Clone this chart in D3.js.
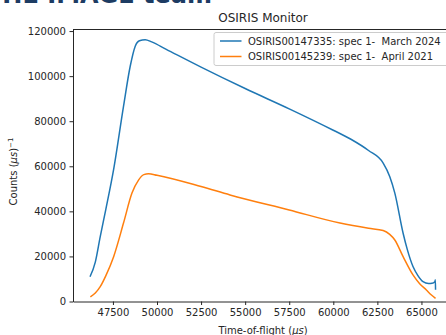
<!DOCTYPE html>
<html>
<head>
<meta charset="utf-8">
<script src="https://cdn.jsdelivr.net/npm/d3@7"></script>
<style>
  body { margin: 0; background: #fff; }
  svg text { font-family: "DejaVu Sans", sans-serif; fill: #262626; }
  .tick text { font-size: 10px; }
  .tick line, .domain { stroke: #262626; }
</style>
</head>
<body>
<div id="chart"></div>
<script>
// Time-of-flight (us) and counts for each run
var tofMarch = [46200, 46500, 46780, 47100, 47535, 48100, 48480, 48760, 49000, 49330, 49700,
  50500, 52500, 55000, 57500, 60000, 61000, 62000, 62830, 63200, 63490, 63960, 64200,
  64520, 64800, 65090, 65400, 65600, 65760, 65790, 65800];
var countsMarch = [11000, 17500, 28800, 41000, 58400, 86600, 104400, 113200, 115700, 116200, 115200,
  112000, 104000, 94500, 85500, 76000, 72000, 67000, 61400, 55500, 48100, 30300, 23000,
  15500, 11500, 8800, 8000, 8100, 8800, 9600, 5200];

var tofApril = [46220, 46500, 46780, 47100, 47540, 48100, 48580, 48960, 49250, 49520, 50000,
  52500, 54140, 57500, 60380, 62000, 62830, 63200, 63490, 63960, 64520, 64900, 65280, 65550, 65800];
var countsApril = [2100, 3800, 6600, 11500, 19900, 34800, 48100, 54000, 56300, 56700, 56000,
  51000, 47300, 40600, 34800, 32500, 31500, 29800, 27300, 19900, 11800, 7900, 5100, 3000, 1400];

var seriesNames = ["OSIRIS00147335: spec 1-\u00a0 March 2024", "OSIRIS00145239: spec 1-\u00a0 April 2021"];
var seriesColors = ["#1f77b4", "#ff7f0e"];
var xTicks = [47500, 50000, 52500, 55000, 57500, 60000, 62500, 65000];
var yTicks = [0, 20000, 40000, 60000, 80000, 100000, 120000];

var W = 446, H = 335;
var margin = { top: 29.5, right: -7, bottom: 33.5, left: 73 },
  width = W - margin.left - margin.right,
  height = H - margin.top - margin.bottom;

var svg = d3.select("#chart").append("svg")
  .attr("width", W).attr("height", H);

// cut-off heading from the page above
svg.append("text")
  .attr("x", -14).attr("y", 2.5)
  .style("font-size", "24px").style("font-weight", "bold")
  .style("fill", "#1d3c63")
  .text("THE IMAGE team");

var g = svg.append("g")
  .attr("transform", "translate(" + margin.left + "," + margin.top + ")");

var x = d3.scaleLinear().domain([45235, 66790]).range([0, width]);
var y = d3.scaleLinear().domain([0, 120700]).range([height, 0]);

g.append("g")
  .attr("transform", "translate(0," + height + ")")
  .call(d3.axisBottom(x).tickValues(xTicks).tickFormat(d3.format("d"))
    .tickSize(3.5).tickPadding(3.5).tickSizeOuter(0));

g.append("g")
  .call(d3.axisLeft(y).tickValues(yTicks).tickFormat(d3.format("d"))
    .tickSize(3.5).tickPadding(3.5).tickSizeOuter(0));

// top spine
g.append("line")
  .attr("x1", 0).attr("x2", width).attr("y1", 0).attr("y2", 0)
  .attr("stroke", "#262626");

var line = d3.line()
  .x(function(d) { return x(d[0]); })
  .y(function(d) { return y(d[1]); })
  .curve(d3.curveMonotoneX);

var series = [d3.zip(tofMarch, countsMarch), d3.zip(tofApril, countsApril)];

g.selectAll(".series")
  .data(series)
  .enter().append("path")
  .attr("class", "series")
  .attr("fill", "none")
  .attr("stroke-width", 1.5)
  .attr("stroke", function(d, i) { return seriesColors[i]; })
  .attr("d", line);

// title
svg.append("text")
  .attr("x", margin.left + width / 2).attr("y", 22)
  .attr("text-anchor", "middle")
  .style("font-size", "12px")
  .text("OSIRIS Monitor");

// axis labels
svg.append("text")
  .attr("x", margin.left + width / 2).attr("y", 334)
  .attr("text-anchor", "middle")
  .style("font-size", "10px")
  .html("Time-of-flight (<tspan font-style='italic'>\u03bcs</tspan>)");

var ylab = svg.append("text")
  .attr("transform", "translate(17," + (margin.top + height / 2 + 6) + ") rotate(-90)")
  .attr("text-anchor", "middle")
  .style("font-size", "10px");
ylab.append("tspan").text("Counts (");
ylab.append("tspan").attr("font-style", "italic").text("\u03bcs");
ylab.append("tspan").text(")");
ylab.append("tspan").attr("dy", -4).style("font-size", "7px").text("\u22121");

// legend
var legend = svg.append("g").attr("transform", "translate(214,32.5)");
legend.append("rect")
  .attr("width", 240).attr("height", 33).attr("rx", 2)
  .attr("fill", "#fff").attr("fill-opacity", 0.8)
  .attr("stroke", "#cccccc");

var items = legend.selectAll(".item")
  .data(seriesNames)
  .enter().append("g")
  .attr("class", "item")
  .attr("transform", function(d, i) { return "translate(0," + (8.5 + i * 15.5) + ")"; });

items.append("line")
  .attr("x1", 6).attr("x2", 27.5)
  .attr("stroke-width", 1.5)
  .attr("stroke", function(d, i) { return seriesColors[i]; });

items.append("text")
  .attr("x", 34).attr("y", 3.6)
  .style("font-size", "10px")
  .text(function(d) { return d; });
</script>
</body>
</html>
